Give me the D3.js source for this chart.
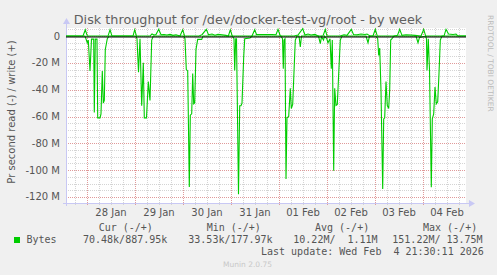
<!DOCTYPE html>
<html>
<head>
<meta charset="utf-8">
<script src="https://cdn.jsdelivr.net/npm/d3@7"></script>
<style>
  body { margin: 0; background: #f0f0f0; }
  text { font-family: "DejaVu Sans", sans-serif; }
  .mono { font-family: "DejaVu Sans Mono", monospace; white-space: pre; }
</style>
</head>
<body>
<script>
// Data: [hours since 27 Jan 2026 00:00, MB/s]
const writeSeries = [
  [13.5, 0], [22, 0], [23.15, 4.7], [24.15, 0], [34.5, 0], [35.5, 4.7], [36.5, 0],
  [47, 0], [47.85, 4.7], [48.75, 0], [55.5, 0], [56.5, 1.5], [57.5, 0.8], [58.5, 1.2],
  [59.85, 5], [61, 1], [62.5, 1.2], [64, 0.8], [65.5, 1.2], [67, 0.5], [68.5, 1], [70.5, 0],
  [71.85, 4.7], [72.85, 0], [80, 0], [81.5, 1], [83.65, 5], [84.75, 1], [86.5, 1.5], [88, 0.6],
  [89.5, 1.3], [91.5, 1], [93.5, 0.5], [94.65, 0], [95.65, 4.7], [96.65, 0], [106.5, 0],
  [107.85, 4.7], [108.75, 1.2], [110.5, 1.2], [112.5, 1.2], [114.5, 1.2], [116.5, 1.2],
  [118.5, 1], [119.5, 5], [120.65, 0], [127.5, 0], [129.5, 0.8], [131.85, 5.5], [133, 0.8],
  [134.5, 1.5], [136, 0.8], [138, 1.2], [139.5, 0], [142, 0], [143.15, 5], [144, 0],
  [150.5, 0], [152.5, 1], [154, 0.5], [156.15, 5], [157.25, 1.2], [159, 1], [161, 1.5],
  [163, 1.2], [164, 1.5], [165.5, 0], [167, 0], [168.15, 5], [169.15, 0], [177.5, 0],
  [179.25, 0.5], [180.35, 5], [181.5, 0.5], [183.5, 1], [186, 0.8], [188, 0.5], [191, 0],
  [192.35, 5], [193.35, 0], [202.5, 0], [203.5, 5], [204.75, 1.5], [207, 1.2], [208.5, 1.5],
  [209.5, 0], [213.5, 0]
]

const readSeries = [
  [13.5, 0], [23, 0], [24.15, 5], [24.65, 3], [25.5, 26], [26.25, 2.3], [27.35, 2.3],
  [27.65, 57], [28.15, 2.3], [29, 2.3], [29.35, 61], [30.5, 61], [31, 58], [31.65, 26],
  [32.15, 50], [32.65, 48], [33.15, 10], [34.15, 2], [35, 0],
  [48.5, 0], [49, 2], [49.75, 27], [50.5, 2], [51.35, 52], [52.15, 20], [52.65, 61],
  [53.75, 61], [54.65, 34], [55.5, 48], [56.35, 3], [57.15, 0],
  [72.35, 0], [73, 2], [73.65, 25], [74.35, 26], [75.15, 112.5], [75.65, 59], [76.35, 58],
  [76.85, 28], [77.35, 50.6], [77.85, 50], [78.5, 10], [79.35, 2.5], [81.35, 2.5], [82, 0],
  [96.65, 0], [97.5, 2], [97.85, 25.7], [98.35, 2], [98.75, 2], [99.75, 118], [100.35, 52],
  [101, 52], [101.5, 50], [102.35, 15.7], [102.85, 2], [105.5, 1.5], [106.5, 0],
  [121, 0], [121.75, 2], [122.15, 24.4], [122.5, 3], [123, 2], [123.5, 106.6], [124, 61],
  [124.85, 60], [125.65, 39], [126.15, 54], [126.85, 51], [127.65, 21], [128.15, 3], [129, 0],
  [130, 0], [130.65, 8.2], [131.25, 0], [139.75, 0], [140.65, 5.7], [141.25, 0.5],
  [142.25, 3], [142.75, 0], [143.9, 2], [144.5, 5], [145.5, 2], [146.15, 24.4], [146.65, 3],
  [147.35, 100.4], [147.85, 39], [148.5, 51.8], [149.15, 51], [149.85, 28], [150.65, 3], [151.5, 0],
  [163.5, 0], [164.5, 5], [165.25, 0], [168.5, 0], [169.35, 2], [169.85, 14.5], [170.35, 9],
  [171, 40.6], [171.85, 114], [172.35, 61.8], [172.85, 61], [173.5, 34], [174.15, 51.8],
  [174.85, 54], [175.35, 40], [175.85, 3], [176.5, 2], [177.5, 0],
  [188.5, 0], [189.5, 5], [190.25, 1], [193.35, 0], [193.75, 2], [194, 25.7], [194.65, 2],
  [195.25, 25], [196.15, 112.8], [196.65, 61.8], [197.35, 58], [198, 38], [198.65, 50.6],
  [199.35, 49], [200, 28], [200.65, 3], [201.5, 0], [213.5, 0]
]

const yTicks = [0, -20, -40, -60, -80, -100, -120]
const yTickLabels = ["0", "-20 M", "-40 M", "-60 M", "-80 M", "-100 M", "-120 M"]
const legendHeaders = ["Cur (-/+)", "Min (-/+)", "Avg (-/+)", "Max (-/+)"]
const legendValues = ["70.48k/887.95k", "33.53k/177.97k", "10.22M/  1.11M", "151.22M/ 13.75M"]
const seriesName = "Bytes"
const lastUpdate = "Last update: Wed Feb  4 21:30:11 2026"
const title = "Disk throughput for /dev/docker-test-vg/root - by week"

// Layout
const W = 497, H = 275
const plot = { left: 66, right: 466, top: 28, bottom: 203 }
const t0 = Date.UTC(2026, 0, 27)
const toDate = h => new Date(t0 + h * 3600e3)

const xScale = d3.scaleUtc()
  .domain([toDate(13.5), toDate(213.5)])
  .range([plot.left, plot.right])

const yScale = d3.scaleLinear()
  .domain([-124.5, 6])
  .range([plot.bottom, plot.top])

const svg = d3.select("body").append("svg")
  .attr("width", W)
  .attr("height", H)

svg.append("rect")
  .attr("x", plot.left).attr("y", plot.top)
  .attr("width", plot.right - plot.left).attr("height", plot.bottom - plot.top)
  .attr("fill", "#ffffff")

// Grid
const grid = svg.append("g").attr("shape-rendering", "crispEdges")
const minorY = d3.range(-120, 6, 5).filter(v => v % 20 !== 0)
grid.selectAll(".hmin").data(minorY).enter().append("line")
  .attr("x1", plot.left).attr("x2", plot.right)
  .attr("y1", d => Math.round(yScale(d)) + 0.5).attr("y2", d => Math.round(yScale(d)) + 0.5)
  .attr("stroke", "#d4d4d4").attr("stroke-dasharray", "1,1")

const [d0, d1] = xScale.domain()
const minorX = d3.utcHour.every(6).range(d0, d1).filter(d => d.getUTCHours() !== 0)
grid.selectAll(".vmin").data(minorX).enter().append("line")
  .attr("y1", plot.top).attr("y2", plot.bottom + 2)
  .attr("x1", d => Math.round(xScale(d)) + 0.5).attr("x2", d => Math.round(xScale(d)) + 0.5)
  .attr("stroke", "#d4d4d4").attr("stroke-dasharray", "1,1")

grid.selectAll(".hmaj").data(yTicks).enter().append("line")
  .attr("x1", plot.left).attr("x2", plot.right)
  .attr("y1", d => Math.round(yScale(d)) + 0.5).attr("y2", d => Math.round(yScale(d)) + 0.5)
  .attr("stroke", "#e09a9a").attr("stroke-dasharray", "1,1")

const days = d3.utcDay.range(d0, d1)
grid.selectAll(".vmaj").data(days).enter().append("line")
  .attr("y1", plot.top).attr("y2", plot.bottom + 3)
  .attr("x1", d => Math.round(xScale(d)) + 0.5).attr("x2", d => Math.round(xScale(d)) + 0.5)
  .attr("stroke", "#e09a9a").attr("stroke-dasharray", "1,1")

// Axes (rrdtool style)
const axisColor = "#c8c8f4"
svg.append("line")
  .attr("x1", plot.left + 0.5).attr("x2", plot.left + 0.5)
  .attr("y1", plot.bottom + 3).attr("y2", plot.top - 5)
  .attr("stroke", axisColor)
svg.append("path")
  .attr("d", `M${plot.left - 3},${plot.top - 4} L${plot.left + 4},${plot.top - 4} L${plot.left + 0.5},${plot.top - 10} Z`)
  .attr("fill", axisColor)
svg.append("line")
  .attr("x1", plot.left - 3).attr("x2", plot.right + 5)
  .attr("y1", plot.bottom + 0.5).attr("y2", plot.bottom + 0.5)
  .attr("stroke", axisColor)
svg.append("path")
  .attr("d", `M${plot.right + 3},${plot.bottom - 3} L${plot.right + 3},${plot.bottom + 4} L${plot.right + 9},${plot.bottom + 0.5} Z`)
  .attr("fill", axisColor)

// Tick labels
svg.selectAll(".ylab").data(yTicks).enter().append("text")
  .attr("x", plot.left - 6)
  .attr("y", d => yScale(d) + 3.5)
  .attr("text-anchor", "end")
  .attr("font-size", 10)
  .attr("fill", "#555")
  .text((d, i) => yTickLabels[i])

svg.selectAll(".xlab").data(days).enter().append("text")
  .attr("x", d => xScale(d3.utcHour.offset(d, 12)))
  .attr("y", 215.5)
  .attr("text-anchor", "middle")
  .attr("font-size", 10)
  .attr("fill", "#555")
  .text(d => d3.utcFormat("%d %b")(d))

// Series
const line = sign => d3.line()
  .x(d => xScale(toDate(d[0])))
  .y(d => yScale(sign * d[1]))

svg.append("path")
  .datum(readSeries)
  .attr("d", line(-1))
  .attr("fill", "none")
  .attr("stroke", "#00cc00")
  .attr("stroke-width", 1.1)

svg.append("path")
  .datum(writeSeries)
  .attr("d", line(1))
  .attr("fill", "none")
  .attr("stroke", "#00cc00")
  .attr("stroke-width", 1.1)

// Zero rule
svg.append("line")
  .attr("x1", plot.left).attr("x2", plot.right)
  .attr("y1", Math.round(yScale(0)) + 1).attr("y2", Math.round(yScale(0)) + 1)
  .attr("stroke", "#000")
  .attr("stroke-width", 1)

// Title and side labels
svg.append("text")
  .attr("x", 248).attr("y", 23.5)
  .attr("text-anchor", "middle")
  .attr("font-size", 12.8)
  .attr("fill", "#606060")
  .text(title)

svg.append("text")
  .attr("transform", "translate(15,112) rotate(-90)")
  .attr("text-anchor", "middle")
  .attr("font-size", 10)
  .attr("fill", "#555")
  .text("Pr second read (-) / write (+)")

svg.append("text")
  .attr("transform", "translate(488,15) rotate(90)")
  .attr("font-size", 7.5)
  .attr("fill", "#bbb")
  .text("RRDTOOL / TOBI OETIKER")

// Legend
const headerX = [98.7, 206.7, 315, 423]
const valueX = [83, 188.3, 293.3, 392.3]
svg.selectAll(".lh").data(legendHeaders).enter().append("text")
  .attr("class", "mono")
  .attr("x", (d, i) => headerX[i]).attr("y", 231)
  .attr("font-size", 10).attr("fill", "#555")
  .text(d => d)

svg.append("rect")
  .attr("x", 14).attr("y", 237)
  .attr("width", 6).attr("height", 6)
  .attr("fill", "#00cc00")

svg.append("text")
  .attr("class", "mono")
  .attr("x", 26.5).attr("y", 243)
  .attr("font-size", 10).attr("fill", "#555")
  .text(seriesName)

svg.selectAll(".lv").data(legendValues).enter().append("text")
  .attr("class", "mono")
  .attr("x", (d, i) => valueX[i]).attr("y", 243)
  .attr("font-size", 10).attr("fill", "#555")
  .text(d => d)

svg.append("text")
  .attr("class", "mono")
  .attr("x", 261).attr("y", 255)
  .attr("font-size", 10).attr("fill", "#555")
  .text(lastUpdate)

svg.append("text")
  .attr("x", 223).attr("y", 267)
  .attr("font-size", 7.5)
  .attr("fill", "#c8c8c8")
  .text("Munin 2.0.75")
</script>
</body>
</html>
